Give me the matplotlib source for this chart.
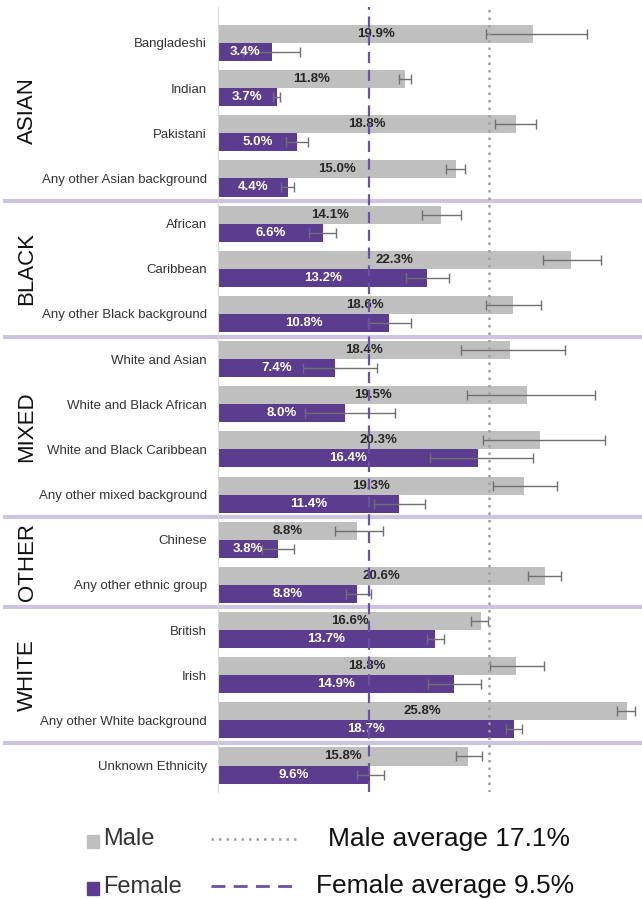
import numpy as np
import matplotlib
matplotlib.use("Agg")
import matplotlib.pyplot as plt
from matplotlib.transforms import blended_transform_factory
from matplotlib.lines import Line2D
from matplotlib.patches import Rectangle

plt.rcParams['font.family'] = ['Liberation Sans', 'DejaVu Sans']

categorias = ['Bangladeshi', 'Indian', 'Pakistani', 'Any other Asian background',
              'African', 'Caribbean', 'Any other Black background',
              'White and Asian', 'White and Black African', 'White and Black Caribbean',
              'Any other mixed background',
              'Chinese', 'Any other ethnic group',
              'British', 'Irish', 'Any other White background',
              'Unknown Ethnicity']

grupos = ['ASIAN', 'BLACK', 'MIXED', 'OTHER', 'WHITE']
tamanho_grupos = [4, 3, 4, 2, 3]

male = [19.9, 11.8, 18.8, 15.0, 14.1, 22.3, 18.6, 18.4, 19.5, 20.3, 19.3, 8.8, 20.6, 16.6, 18.8, 25.8, 15.8]
male_low = [16.9, 11.45, 17.5, 14.4, 12.9, 20.5, 16.9, 15.3, 15.7, 16.7, 17.35, 7.4, 19.55, 15.95, 17.15, 25.2, 15.0]
male_high = [23.3, 12.15, 20.05, 15.6, 15.35, 24.15, 20.35, 21.9, 23.8, 24.4, 21.4, 10.4, 21.65, 17.05, 20.55, 26.3, 16.65]

female = [3.4, 3.7, 5.0, 4.4, 6.6, 13.2, 10.8, 7.4, 8.0, 16.4, 11.4, 3.8, 8.8, 13.7, 14.9, 18.7, 9.6]
female_low = [1.6, 3.5, 4.3, 4.0, 5.75, 11.85, 9.45, 5.35, 5.5, 13.4, 9.85, 2.8, 8.05, 13.2, 13.25, 18.2, 8.8]
female_high = [5.2, 3.9, 5.7, 4.8, 7.45, 14.55, 12.15, 10.0, 11.15, 19.9, 13.05, 4.8, 9.65, 14.25, 16.6, 19.2, 10.45]

media_male = 17.1
media_female = 9.5

cinza = '#bfbfbf'
roxo = '#5b3c8e'
lilas = '#cdc4df'

W, H = 642, 899
fig = plt.figure(figsize=(W / 100, H / 100), dpi=100)
ax = fig.add_axes([218 / W, (H - 792) / H, 1 - 218 / W, (792 - 7) / H])

y = np.arange(len(categorias))
m = np.array(male)
f = np.array(female)

ax.barh(y - 0.2, m, height=0.4, color=cinza, zorder=2)
ax.barh(y + 0.2, f, height=0.4, color=roxo, zorder=2)

ax.errorbar(m, y - 0.2, xerr=[m - np.array(male_low), np.array(male_high) - m],
            fmt='none', ecolor='#707070', elinewidth=1, capsize=3.5, capthick=1, zorder=3)
ax.errorbar(f, y + 0.2, xerr=[f - np.array(female_low), np.array(female_high) - f],
            fmt='none', ecolor='#707070', elinewidth=1, capsize=3.5, capthick=1, zorder=3)

for i in range(len(categorias)):
    ax.text(male[i] / 2, i - 0.2, f'{male[i]:.1f}%', ha='center', va='center',
            fontsize=9.5, fontweight='bold', color='#262626', zorder=4)
    ax.text(female[i] / 2, i + 0.2, f'{female[i]:.1f}%', ha='center', va='center',
            fontsize=9.5, fontweight='bold', color='white', zorder=4)

# linhas das medias
ax.axvline(media_male, color='#a0a0a0', linestyle=(0, (1, 2)), lw=1.8, zorder=5)
ax.axvline(media_female, color='#6b52a3', linestyle=(0, (5, 3)), lw=1.6, zorder=5)

ax.set_xlim(0, 26.75)
ax.set_ylim(16 + (792 - 765.5) / 45.16, -(43 - 7) / 45.16)
ax.set_yticks(y)
ax.set_yticklabels(categorias, fontsize=9.5, color='#333333')
ax.tick_params(axis='y', length=0, pad=8)
ax.set_xticks([])
for lado in ['top', 'right', 'bottom']:
    ax.spines[lado].set_visible(False)
ax.spines['left'].set_color('#d9d9d9')

# separadores e nomes dos grupos
trans = blended_transform_factory(fig.transFigure, ax.transData)
inicio = 0
for nome, n in zip(grupos, tamanho_grupos):
    centro = inicio + (n - 1) / 2
    ax.text(27 / W, centro, nome, rotation=90, ha='center', va='center',
            fontsize=16, color='#111111', transform=trans)
    sep = inicio + n - 0.5
    ax.plot([5 / W, 1], [sep, sep], color=lilas, lw=3, transform=trans, clip_on=False, zorder=1)
    inicio += n

# legenda
def fy(py):
    return (H - py) / H

fig.patches.append(Rectangle((87 / W, fy(848)), 12 / W, 13 / H, color=cinza, transform=fig.transFigure))
fig.patches.append(Rectangle((87 / W, fy(895)), 12 / W, 13 / H, color=roxo, transform=fig.transFigure))
fig.text(103 / W, fy(839), 'Male', fontsize=17, va='center', color='#333333')
fig.text(103 / W, fy(887), 'Female', fontsize=17, va='center', color='#333333')
fig.lines.append(Line2D([211 / W, 297 / W], [fy(839), fy(839)], color='#a0a0a0',
                        linestyle=(0, (1, 2)), lw=1.8, transform=fig.transFigure))
fig.lines.append(Line2D([211 / W, 297 / W], [fy(886), fy(886)], color='#6b52a3',
                        linestyle=(0, (5, 3)), lw=2, transform=fig.transFigure))
fig.text(328 / W, fy(839), f'Male average {media_male}%', fontsize=19, va='center', color='#111111')
fig.text(316 / W, fy(886), f'Female average {media_female}%', fontsize=19, va='center', color='#111111')

plt.savefig('out.png', dpi=100)
